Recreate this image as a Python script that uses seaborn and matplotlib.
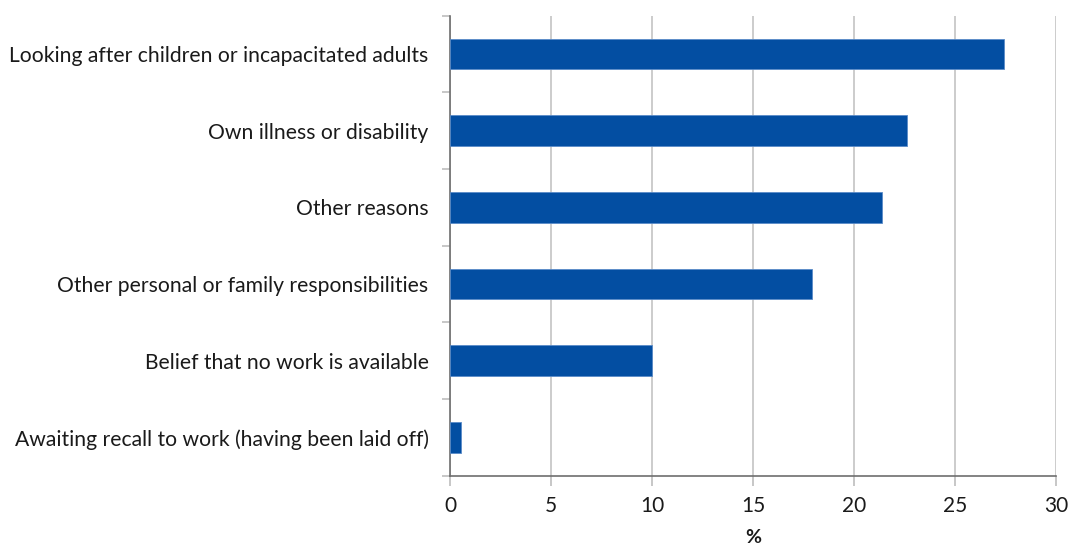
import matplotlib
matplotlib.use("Agg")
import matplotlib.pyplot as plt
import seaborn as sns
import pandas as pd
import numpy as np

categories = [
    "Looking after children or incapacitated adults",
    "Own illness or disability",
    "Other reasons",
    "Other personal or family responsibilities",
    "Belief that no work is available",
    "Awaiting recall to work (having been laid off)",
]
values = [27.4, 22.6, 21.4, 17.9, 10.0, 0.55]
x_ticks = [0, 5, 10, 15, 20, 25, 30]

sns.set_theme(style="white")
plt.rcParams["font.family"] = ["Lato", "DejaVu Sans"]

df = pd.DataFrame({"reason": categories, "pct": values})

fig = plt.figure(figsize=(10.69, 5.47), dpi=100)
ax = fig.add_axes([0.421, 0.130, 0.567, 0.8415])

sns.barplot(data=df, x="pct", y="reason", order=categories, color="#034EA2",
            saturation=1, width=0.4, ax=ax, zorder=3,
            edgecolor="#5A8BC8", linewidth=0.6)

ax.set_xlim(0, 30)
ax.set_ylim(5.5, -0.5)
ax.set_xticks(x_ticks)
ax.set_xticklabels([str(t) for t in x_ticks], fontsize=15, color="#1a1a1a")
ax.xaxis.grid(True, color="#C4C4C4", linewidth=1.2, zorder=0)
ax.yaxis.grid(False)

# category labels on major ticks, boundary marks on minor ticks
ax.set_yticks(range(len(categories)))
ax.set_yticklabels(categories, fontsize=15.2, color="#1a1a1a")
ax.set_yticks(np.arange(-0.5, len(categories), 1), minor=True)
ax.tick_params(axis="y", which="major", length=0, pad=15.5)
ax.tick_params(axis="y", which="minor", length=6, width=1.2, color="#BEBEBE", left=True)
ax.tick_params(axis="x", which="major", length=7, width=1.2, color="#BEBEBE", bottom=True, pad=7.5)

for side in ("top", "right"):
    ax.spines[side].set_visible(False)
for side in ("left", "bottom"):
    ax.spines[side].set_color("#6E6E6E")
    ax.spines[side].set_linewidth(1.2)

ax.set_xlabel("%", fontsize=14, fontweight="bold", color="#1a1a1a", labelpad=9)
ax.set_ylabel("")

fig.savefig("out.png", dpi=100, facecolor="white")
